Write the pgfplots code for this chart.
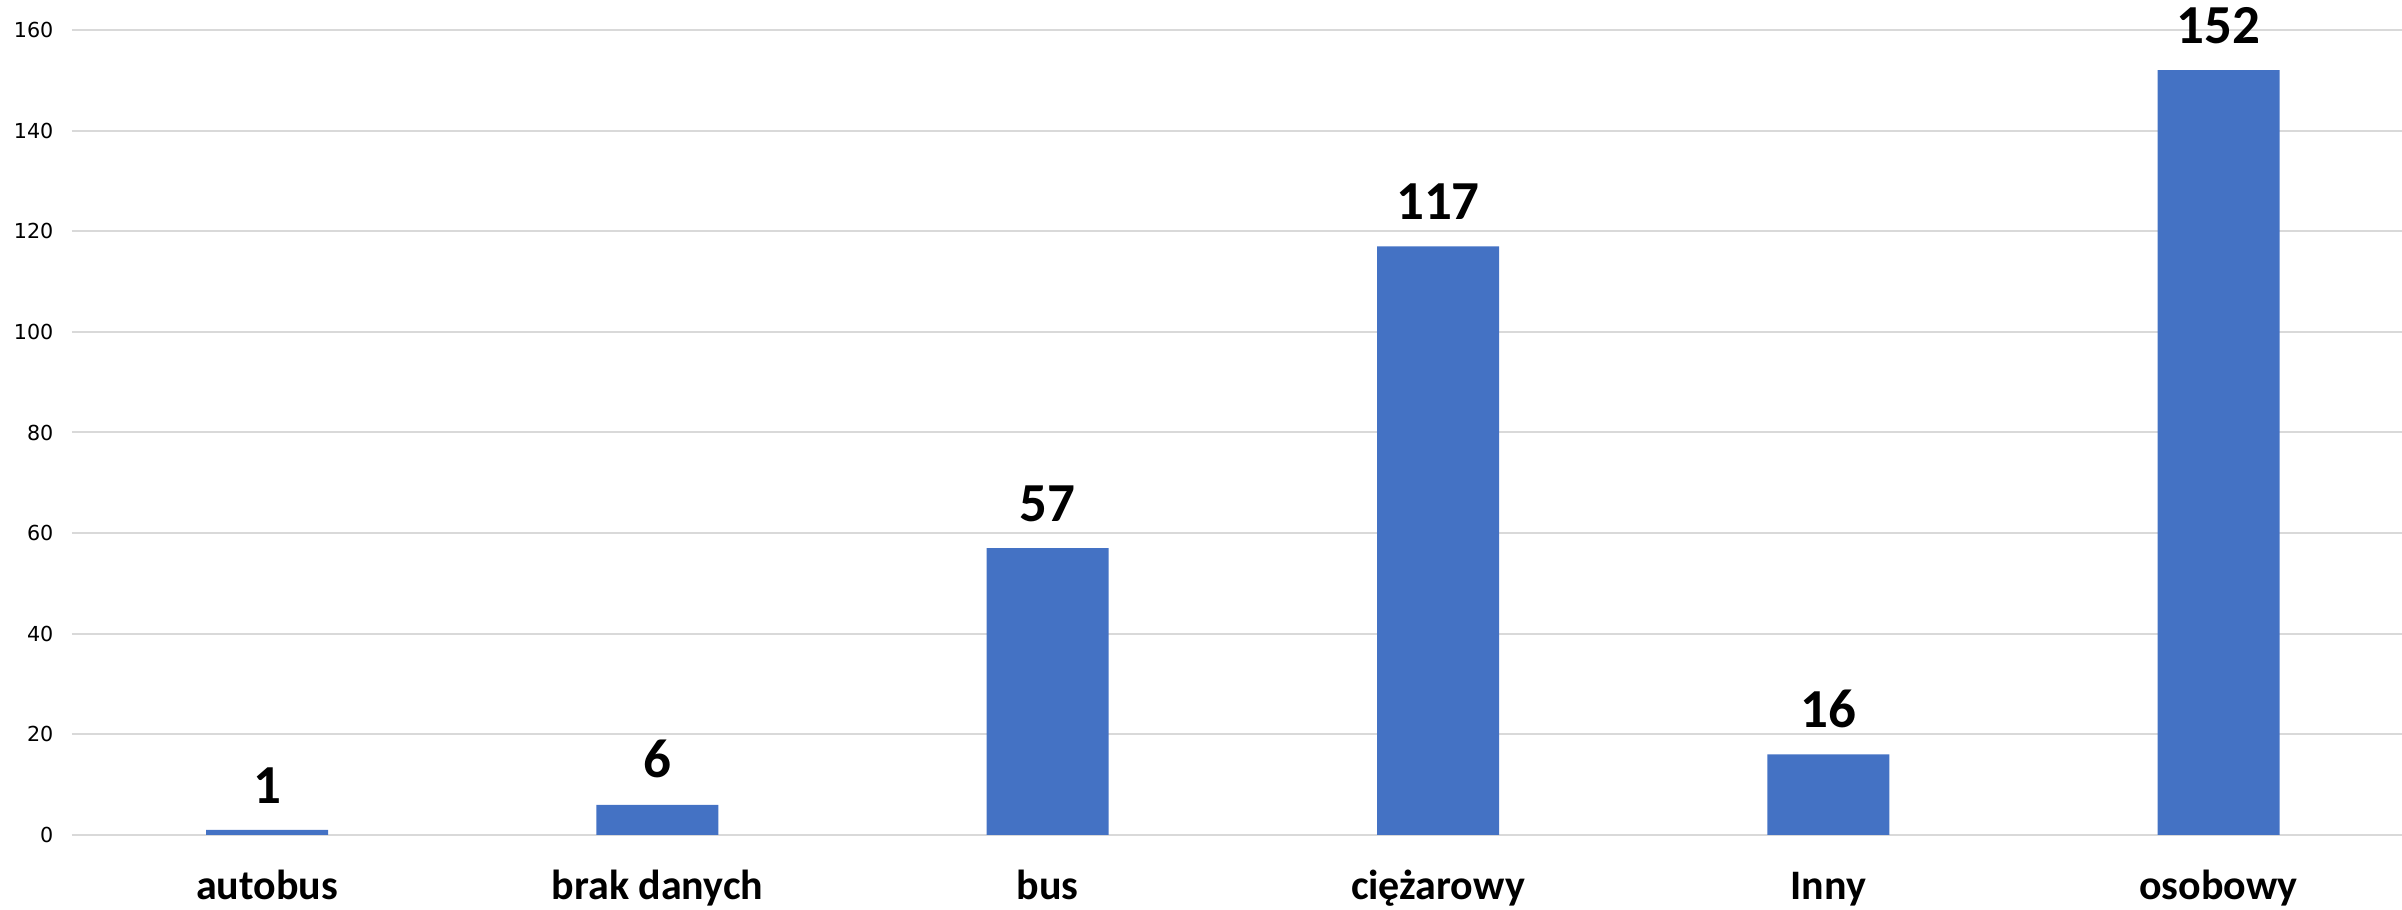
\documentclass[border=0pt]{standalone}
\usepackage{fontspec}
\setmainfont{Carlito}
\newfontfamily\dejavu{DejaVu Sans}
\usepackage{pgfplots}
\pgfplotsset{compat=1.18}
\definecolor{barblue}{HTML}{4472C4}
\definecolor{gridgray}{HTML}{D9D9D9}
\begin{document}
\begin{tikzpicture}
\begin{axis}[
  scale only axis,
  width=699pt, height=241.5pt,
  xmin=-0.5, xmax=5.47,
  ymin=0, ymax=160,
  ytick={0,20,...,160},
  xtick={0,1,2,3,4,5},
  xticklabels={autobus,brak danych,bus,ciężarowy,Inny,osobowy},
  axis line style={draw=none},
  major tick length=0pt,
  ymajorgrids,
  grid style={gridgray, line width=0.6pt},
  /pgf/number format/assume math mode=true,
  yticklabel style={font=\dejavu\fontsize{6.2}{7}\selectfont, anchor=east, inner sep=0pt, xshift=-5.4pt},
  xticklabel style={font=\bfseries\fontsize{12.6}{15}\selectfont, anchor=base, inner sep=0pt, yshift=-19.4pt},
  ybar, bar width=36.6pt,
  nodes near coords,
  every node near coord/.append style={font=\bfseries\fontsize{16.5}{19}\selectfont, anchor=south, inner sep=0pt, yshift=7.8pt, black},
  clip=false,
]
\addplot[fill=barblue, draw=none] coordinates {(0,1) (1,6) (2,57) (3,117) (4,16) (5,152)};
\end{axis}
\pgfresetboundingbox
\path[use as bounding box] (-21.6pt,-22.5pt) rectangle (699pt,250.5pt);
\end{tikzpicture}
\end{document}
